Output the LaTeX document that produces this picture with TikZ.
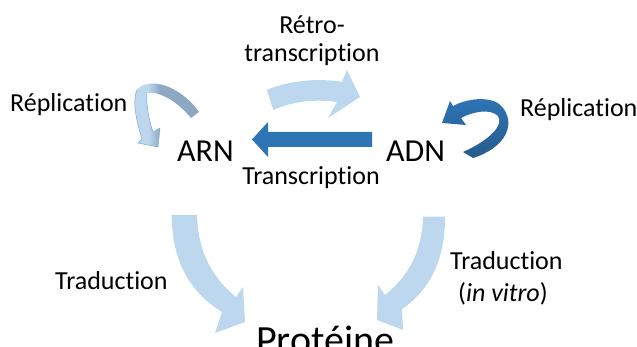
\documentclass[tikz,border=0pt]{standalone}
\usepackage{fontspec}
\setmainfont{Carlito}[Ligatures={NoCommon,NoRequired}]
\definecolor{lightblue}{HTML}{BDD7EE}
\definecolor{midblue}{HTML}{2E75B6}
\definecolor{darkblue}{HTML}{275B8C}
\definecolor{greyblue}{HTML}{8DA8C3}
\definecolor{headline}{HTML}{7FAADA}
\pgfdeclarehorizontalshading{replshade}{100bp}{color(0bp)=(lightblue); color(25bp)=(lightblue); color(37bp)=(lightblue); color(46bp)=(greyblue); color(100bp)=(greyblue)}
\begin{document}
\begin{tikzpicture}[x=1pt,y=-1pt,
  lbl/.style={inner sep=0pt, anchor=base west, font=\fontsize{26}{31}\selectfont},
  clbl/.style={inner sep=0pt, anchor=base, font=\fontsize{26}{31}\selectfont},
  mol/.style={inner sep=0pt, anchor=base west, font=\fontsize{32}{38}\selectfont},
  lightarrow/.style={fill=lightblue, draw=none},
  darkarrow/.style={fill=midblue, draw=none}]
\useasboundingbox (0,0) rectangle (637,347);

% molecule names
\node[mol] (arn) at (177,161.7) {ARN};
\node[mol] (adn) at (386,161.7) {ADN};
\node[inner sep=0pt, anchor=base west, font=\fontsize{40}{48}\selectfont] (prot) at (256,353.3) {Protéine};

% labels
\node[lbl] (repL) at (10,111.7) {Réplication};
\node[lbl] (repR) at (520,116.7) {Réplication};
\node[clbl] (retro1) at (312,33.3) {Rétro-};
\node[clbl] (retro2) at (312,61.7) {transcription};
\node[clbl] (transc) at (311,185) {Transcription};
\node[lbl] (tradL) at (55,290) {Traduction};
\node[lbl] (tradR) at (450,270) {Traduction};
\node[lbl] (vitro) at (458,301.7) {(\textit{in vitro})};

% Transcription arrow (ADN -> ARN)
\fill[darkarrow] (372,132) -- (268,132) -- (268,122) -- (252,139.5) -- (268,157) -- (268,147) -- (372,147) -- cycle;

% Retro-transcription arrow
\fill[lightarrow] (266.7,90) .. controls (290,80) and (320,78) .. (342,82) -- (347,70) -- (360,97) -- (328,118) -- (337,102)
  .. controls (315,99) and (293,101) .. (273.3,110) -- cycle;

% Replication ARN (curved, shaded)
\shade[shading=replshade] (191,118) .. controls (178,102) and (160,91) .. (147,93)
  .. controls (146,105) and (149,120) .. (153,132) -- (160,128) -- (158,147) -- (138,143) -- (142,139)
  .. controls (136,120) and (132,100) .. (137,90)
  .. controls (148,76) and (180,85) .. (199,112) -- cycle;
\draw[headline, line width=0.5pt] (147,93) .. controls (146,105) and (149,120) .. (153,132) -- (160,128) -- (158,147) -- (138,143) -- (142,139)
  .. controls (136,120) and (132,100) .. (137,90);

% Replication ADN (curved, shaded)
\shade[top color=midblue, middle color=midblue, bottom color=darkblue]
  (463,152) -- (473,158) .. controls (505,148) and (516,125) .. (503,108)
  .. controls (495,96) and (470,97) .. (453,106) -- (450,101) -- (442,123) -- (466,125) -- (461,118)
  .. controls (472,112) and (490,108) .. (498,116)
  .. controls (504,125) and (490,140) .. (463,152) -- cycle;

% Traduction arrows
\fill[lightarrow] (171.7,215) .. controls (172,262) and (190,292) .. (222,312) -- (215,333) -- (245,322) -- (243,287) -- (236,297)
  .. controls (215,280) and (198,255) .. (197,215) -- cycle;
\fill[lightarrow] (445,216.7) .. controls (445,260) and (430,290) .. (402,309) -- (403,330) -- (377,320) -- (378,285) -- (385,295)
  .. controls (410,275) and (422,250) .. (423,216.7) -- cycle;
\end{tikzpicture}
\end{document}
